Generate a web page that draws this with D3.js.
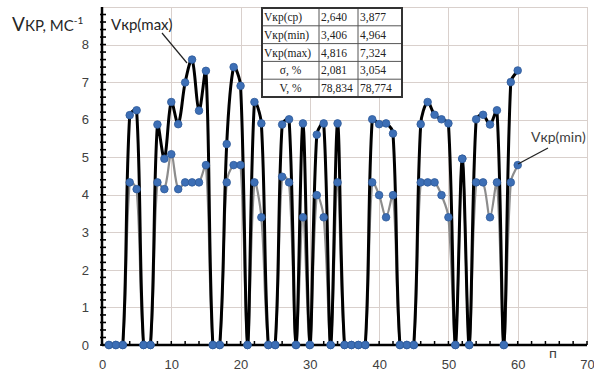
<!DOCTYPE html>
<html>
<head>
<meta charset="utf-8">
<script src="https://cdn.jsdelivr.net/npm/d3@7"></script>
<style>
  html, body { margin: 0; padding: 0; background: #fff; }
  svg { display: block; }
</style>
</head>
<body>
<div id="chart"></div>
<script>
// n = measurement number
const nValues = d3.range(1, 61);

// Vкр(max) — black line
const maxValues = [
  0, 0, 0, 6.12, 6.25, 0, 0, 5.87, 4.96, 6.47,
  5.88, 6.99, 7.6, 6.24, 7.3, 0, 0, 5.35, 7.4, 6.9,
  0, 6.47, 5.9, 0, 0, 5.87, 6.01, 0, 5.9, 0,
  5.6, 5.9, 0, 5.9, 0, 0, 0, 0, 6.01, 5.88,
  5.9, 5.63, 0, 0, 0, 5.88, 6.47, 6.13, 6.01, 5.9,
  0, 4.96, 0, 6.01, 6.13, 5.87, 6.25, 0, 7.0, 7.31
];

// Vкр(min) — grey line
const minValues = [
  0, 0, 0, 4.33, 4.15, 0, 0, 4.33, 4.15, 5.08,
  4.15, 4.33, 4.33, 4.33, 4.79, 0, 0, 4.33, 4.79, 4.79,
  0, 4.33, 3.4, 0, 0, 4.48, 4.33, 0, 3.4, 0,
  3.99, 3.4, 0, 4.33, 0, 0, 0, 0, 4.33, 3.99,
  3.4, 3.99, 0, 0, 0, 4.33, 4.33, 4.33, 3.99, 3.4,
  0, 4.96, 0, 4.33, 4.33, 3.4, 4.33, 0, 4.33, 4.79
];

const xTicks = [0, 10, 20, 30, 40, 50, 60, 70];
const yTicks = [0, 1, 2, 3, 4, 5, 6, 7, 8];

// statistics table
const tableRows = [
  ["Vкр(ср)", "2,640", "3,877"],
  ["Vкр(min)", "3,406", "4,964"],
  ["Vкр(max)", "4,816", "7,324"],
  ["σ, %", "2,081", "3,054"],
  ["V, %", "78,834", "78,774"]
];

const W = 594, H = 375;
const plot = { left: 102, right: 587, top: 7, bottom: 345 };

const svg = d3.select("#chart").append("svg")
  .attr("width", W)
  .attr("height", H)
  .style("font-family", "Lato, 'Open Sans', sans-serif");

const x = d3.scaleLinear().domain([0, 70]).range([plot.left, plot.right]);
const y = d3.scaleLinear().domain([0, 9]).range([plot.bottom, plot.top]);

// === grid ===
const grid = svg.append("g").attr("stroke", "#d9d0cc").attr("stroke-width", 1);
grid.selectAll(".hg")
  .data(d3.range(1, 10))
  .enter().append("line")
    .attr("x1", plot.left).attr("x2", plot.right)
    .attr("y1", d => Math.round(y(d)) + 0.5)
    .attr("y2", d => Math.round(y(d)) + 0.5);
grid.selectAll(".vg")
  .data(xTicks.slice(1))
  .enter().append("line")
    .attr("x1", d => Math.round(x(d)) + 0.5)
    .attr("x2", d => Math.round(x(d)) + 0.5)
    .attr("y1", plot.top).attr("y2", plot.bottom);

// === axes ===
const xAxis = d3.axisBottom(x).tickValues(xTicks).tickSize(0).tickPadding(15);
const gx = svg.append("g")
  .attr("transform", `translate(0,${plot.bottom})`)
  .call(xAxis);
gx.select(".domain").remove();
gx.selectAll("text").style("font-size", "13px").attr("fill", "#404040");

const yAxis = d3.axisLeft(y).tickValues(yTicks).tickSize(0).tickPadding(13);
const gy = svg.append("g")
  .attr("transform", `translate(${plot.left},0)`)
  .call(yAxis);
gy.select(".domain").remove();
gy.selectAll("text").style("font-size", "13px").attr("fill", "#404040");

// minor ticks
svg.append("g").selectAll("line")
  .data(d3.range(0, 71, 2))
  .enter().append("line")
    .attr("x1", d => x(d)).attr("x2", d => x(d))
    .attr("y1", plot.bottom).attr("y2", plot.bottom - 4)
    .attr("stroke", "#000").attr("stroke-width", 1.5);
svg.append("g").selectAll("line")
  .data(d3.range(0, 45).map(i => i * 0.2))
  .enter().append("line")
    .attr("x1", plot.left - 2).attr("x2", plot.left + 4)
    .attr("y1", d => y(d)).attr("y2", d => y(d))
    .attr("stroke", "#000").attr("stroke-width", 1.6);

svg.append("line")
  .attr("x1", plot.left).attr("x2", plot.right)
  .attr("y1", plot.bottom).attr("y2", plot.bottom)
  .attr("stroke", "#000").attr("stroke-width", 2.5);
svg.append("line")
  .attr("x1", plot.left).attr("x2", plot.left)
  .attr("y1", plot.top).attr("y2", plot.bottom + 1)
  .attr("stroke", "#000").attr("stroke-width", 2.5);

// axis titles
const yTitle = svg.append("text")
  .attr("x", 12).attr("y", 31)
  .attr("fill", "#262626");
yTitle.append("tspan").style("font-size", "19px").text("V");
yTitle.append("tspan").style("font-size", "15px").text("КР, МС");
yTitle.append("tspan").style("font-size", "10px").attr("dy", -7).text("-1");

svg.append("text")
  .attr("x", 553).attr("y", 358)
  .attr("text-anchor", "middle")
  .style("font-size", "14px")
  .attr("fill", "#404040")
  .text("п");

// === lines ===
svg.append("defs").append("clipPath").attr("id", "plot-clip")
  .append("rect")
    .attr("x", plot.left).attr("y", plot.top)
    .attr("width", plot.right - plot.left)
    .attr("height", plot.bottom - plot.top + 1);

// spreadsheet-style smoothing: tangents scaled by neighbouring segment lengths
function smoothPath(vals) {
  const pts = nValues.map((n, i) => [x(n), y(vals[i])]);
  const dist = (a, b) => Math.hypot(b[0] - a[0], b[1] - a[1]);
  const t = 1 / 3;
  const p = d3.path();
  p.moveTo(pts[0][0], pts[0][1]);
  for (let i = 0; i < pts.length - 1; i++) {
    const p0 = pts[Math.max(i - 1, 0)], p1 = pts[i], p2 = pts[i + 1];
    const p3 = pts[Math.min(i + 2, pts.length - 1)];
    const d01 = dist(p0, p1), d12 = dist(p1, p2), d23 = dist(p2, p3);
    const f1 = d01 + d12 > 0 ? t * d12 / (d01 + d12) : 0;
    const f2 = d12 + d23 > 0 ? t * d12 / (d12 + d23) : 0;
    p.bezierCurveTo(
      p1[0] + (p2[0] - p0[0]) * f1, p1[1] + (p2[1] - p0[1]) * f1,
      p2[0] - (p3[0] - p1[0]) * f2, p2[1] - (p3[1] - p1[1]) * f2,
      p2[0], p2[1]
    );
  }
  return p.toString();
}

const lines = svg.append("g").attr("clip-path", "url(#plot-clip)");
lines.append("path")
  .attr("d", smoothPath(minValues))
  .attr("fill", "none")
  .attr("stroke", "#8c8c8c")
  .attr("stroke-width", 2.2);
lines.append("path")
  .attr("d", smoothPath(maxValues))
  .attr("fill", "none")
  .attr("stroke", "#000")
  .attr("stroke-width", 3);

// markers
const lineData = (vals) => nValues.map((n, i) => ({ n: n, v: vals[i] }));
[minValues, maxValues].forEach(vals => {
  svg.append("g").selectAll("circle")
    .data(lineData(vals))
    .enter().append("circle")
      .attr("cx", d => x(d.n))
      .attr("cy", d => y(d.v))
      .attr("r", 3.8)
      .attr("fill", "#3d6fb6")
      .attr("stroke", "#2f5a99")
      .attr("stroke-width", 0.8);
});

// === annotations ===
svg.append("line")
  .attr("x1", 162).attr("y1", 33)
  .attr("x2", 187).attr("y2", 63)
  .attr("stroke", "#222").attr("stroke-width", 1.2);
svg.append("text")
  .attr("x", 111).attr("y", 30)
  .style("font-size", "15px")
  .attr("fill", "#262626")
  .text("Vкр(max)");

svg.append("line")
  .attr("x1", 548).attr("y1", 148)
  .attr("x2", 518).attr("y2", 164)
  .attr("stroke", "#222").attr("stroke-width", 1.2);
svg.append("text")
  .attr("x", 531).attr("y", 142)
  .style("font-size", "14px")
  .attr("fill", "#404040")
  .text("Vкр(min)");

// === table ===
const tbl = { x: 262, y: 8, cols: [0, 57, 96, 140], rowH: 17.8 };
const tg = svg.append("g").attr("transform", `translate(${tbl.x},${tbl.y})`);
tg.append("rect")
  .attr("width", tbl.cols[3])
  .attr("height", tbl.rowH * tableRows.length)
  .attr("fill", "#fff");
tableRows.forEach((row, r) => {
  row.forEach((cell, c) => {
    const centred = c === 0 && r >= 3;
    tg.append("text")
      .attr("x", centred ? (tbl.cols[0] + tbl.cols[1]) / 2 : tbl.cols[c] + 2)
      .attr("y", r * tbl.rowH + tbl.rowH / 2 + 4)
      .attr("text-anchor", centred ? "middle" : "start")
      .style("font-family", "'Liberation Serif', 'DejaVu Serif', serif")
      .style("font-size", "11.5px")
      .attr("fill", "#222")
      .text(cell);
  });
  if (r > 0) {
    tg.append("line")
      .attr("x1", 0).attr("x2", tbl.cols[3])
      .attr("y1", r * tbl.rowH).attr("y2", r * tbl.rowH)
      .attr("stroke", "#555").attr("stroke-width", 1);
  }
});
[tbl.cols[1], tbl.cols[2]].forEach(cx => {
  tg.append("line")
    .attr("x1", cx).attr("x2", cx)
    .attr("y1", 0).attr("y2", tbl.rowH * tableRows.length)
    .attr("stroke", "#555").attr("stroke-width", 1);
});
tg.append("rect")
  .attr("width", tbl.cols[3])
  .attr("height", tbl.rowH * tableRows.length)
  .attr("fill", "none")
  .attr("stroke", "#333")
  .attr("stroke-width", 2);
</script>
</body>
</html>
